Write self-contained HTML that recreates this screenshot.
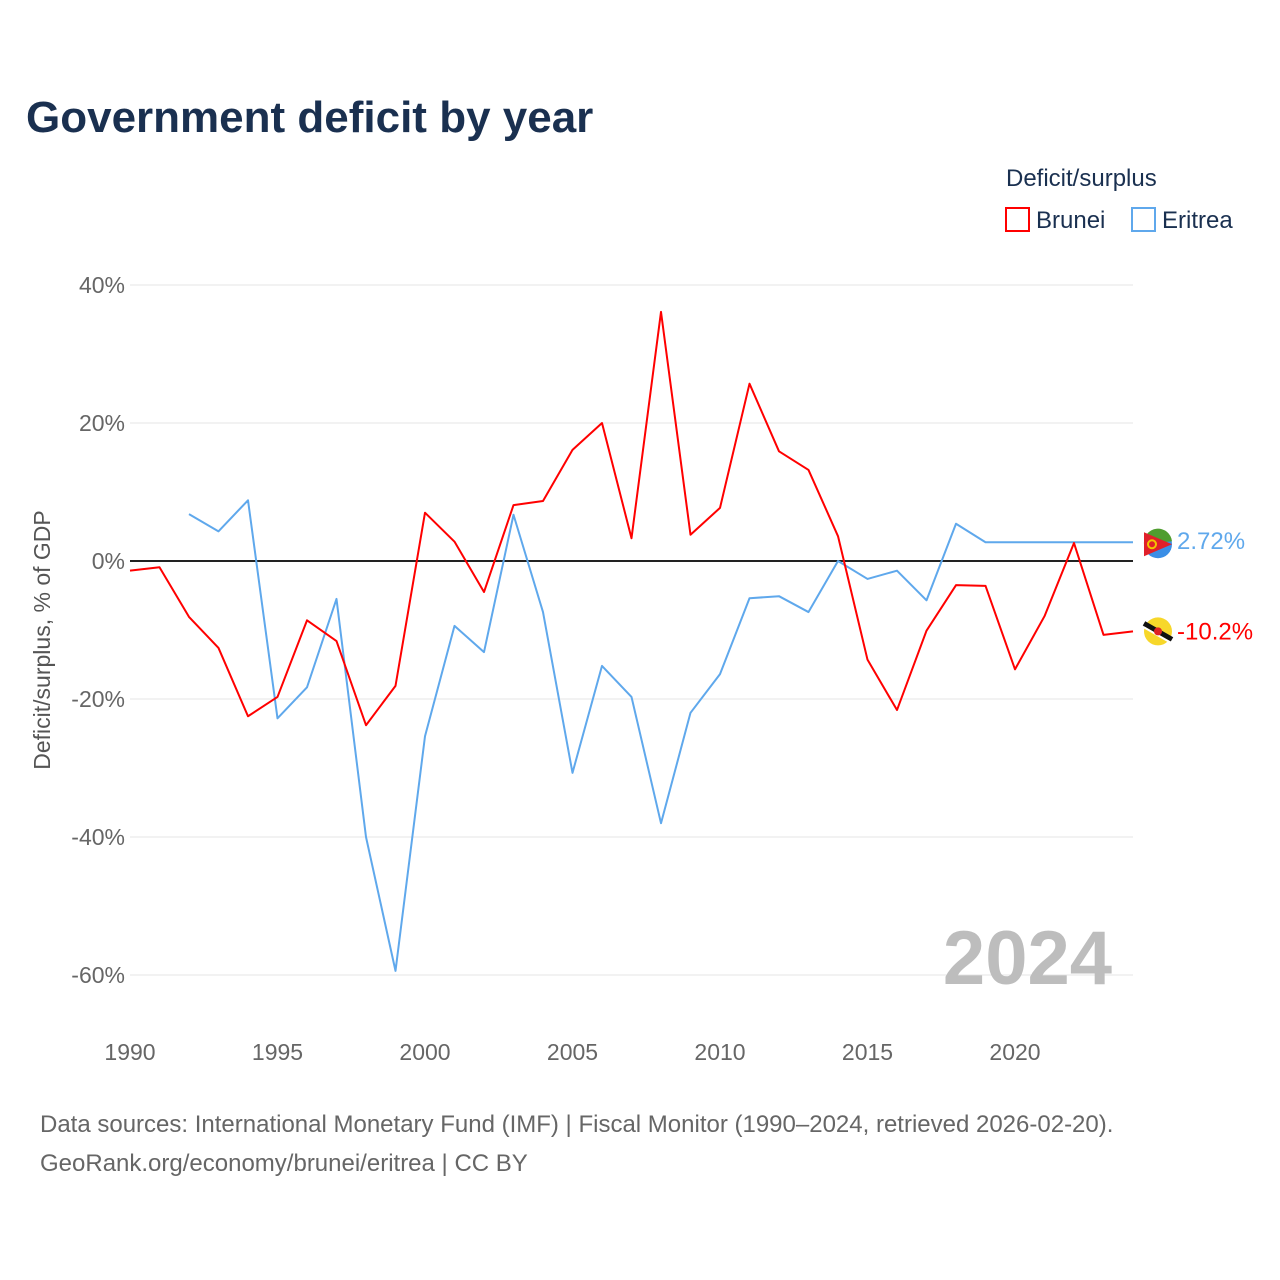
<!DOCTYPE html>
<html><head><meta charset="utf-8"><style>
html,body{margin:0;padding:0;background:#fff;width:1280px;height:1280px;overflow:hidden}
svg text{font-family:"Liberation Sans",sans-serif}
</style></head><body>
<svg id="chart" width="1280" height="1280" xmlns="http://www.w3.org/2000/svg">
<text x="26" y="132" font-size="44" font-weight="bold" fill="#1a3050">Government deficit by year</text>
<text x="1006" y="186" font-size="24" fill="#1a3050">Deficit/surplus</text>
<g><rect x="1006" y="208" width="23" height="23" fill="none" stroke="#ff0000" stroke-width="2"/><text x="1036" y="228" font-size="24" fill="#1a3050">Brunei</text></g>
<g><rect x="1132" y="208" width="23" height="23" fill="none" stroke="#5fa8ec" stroke-width="2"/><text x="1162" y="228" font-size="24" fill="#1a3050">Eritrea</text></g>
<g id="grid"></g>
<g id="yt"></g>
<g id="xt"></g>
<text transform="translate(50,640) rotate(-90)" text-anchor="middle" font-size="23" fill="#555">Deficit/surplus, % of GDP</text>
<text x="1112" y="984" text-anchor="end" font-size="76" font-weight="bold" fill="#bdbdbd">2024</text>
<g id="series"></g>
<text x="40" y="1132" font-size="24" fill="#666">Data sources: International Monetary Fund (IMF) | Fiscal Monitor (1990–2024, retrieved 2026-02-20).</text>
<text x="40" y="1171" font-size="24" fill="#666">GeoRank.org/economy/brunei/eritrea | CC BY</text>
</svg>
<script>
const years=[];for(let y=1990;y<=2024;y++)years.push(y);
const brunei=[-1.4,-0.9,-8.1,-12.6,-22.5,-19.7,-8.6,-11.6,-23.8,-18.1,7.0,2.8,-4.5,8.1,8.7,16.1,20.0,3.3,36.1,3.8,7.7,25.7,15.9,13.2,3.6,-14.3,-21.6,-10.1,-3.5,-3.6,-15.7,-8.0,2.6,-10.7,-10.2];
const eritrea=[null,null,6.8,4.3,8.8,-22.8,-18.3,-5.5,-40,-59.4,-25.4,-9.4,-13.2,6.7,-7.4,-30.7,-15.2,-19.7,-38,-22,-16.4,-5.4,-5.1,-7.4,0,-2.6,-1.4,-5.7,5.4,2.72,2.72,2.72,2.72,2.72,2.72];
const yTicks=[40,20,0,-20,-40,-60];
const xTicks=[1990,1995,2000,2005,2010,2015,2020];
const X=y=>130+(y-1990)*(1133-130)/34;
const Y=v=>561-v*6.9;
const NS="http://www.w3.org/2000/svg";
function mk(t,a,p){const e=document.createElementNS(NS,t);for(const k in a)e.setAttribute(k,a[k]);p.appendChild(e);return e;}
const grid=document.getElementById('grid'),yt=document.getElementById('yt'),xt=document.getElementById('xt'),ser=document.getElementById('series');
yTicks.forEach(v=>{
 const l=mk('line',{x1:130,x2:1133,y1:Y(v),y2:Y(v),stroke:v===0?'#222':'#e6e6e6','stroke-width':v===0?2:1},grid);
 
 
 const t=mk('text',{x:125,y:Y(v)+8,'text-anchor':'end','font-size':23,fill:'#666'},yt);t.textContent=v+'%';
 
 
});
xTicks.forEach(v=>{
 const t=mk('text',{x:X(v),y:1060,'text-anchor':'middle','font-size':23,fill:'#666'},xt);t.textContent=v;
 
 
});
function line(vals,color,name){
 let d='';let started=false;
 vals.forEach((v,i)=>{if(v===null)return;d+=(started?'L':'M')+X(years[i])+','+Y(v);started=true;});
 const p=mk('path',{d:d,fill:'none',stroke:color,'stroke-width':2,'stroke-linejoin':'round'},ser);
 
 
}
line(eritrea,'#5fa8ec','eritrea-line');
line(brunei,'#ff0000','brunei-line');
const le=eritrea[eritrea.length-1],lb=brunei[brunei.length-1];
const fe=mk('g',{},ser);


mk('circle',{cx:1158,cy:Y(le)+2,r:14,fill:'#3a8ee6'},fe);
mk('path',{d:`M1144,${Y(le)+2} A14,14 0 0 1 1172,${Y(le)-1} Z`,fill:'#4f9d2f'},fe);
mk('path',{d:`M1144,${Y(le)-10} L1172,${Y(le)+2} L1144,${Y(le)+14} Z`,fill:'#e0202a'},fe);
mk('circle',{cx:1152,cy:Y(le)+2,r:4,fill:'none',stroke:'#f3c300','stroke-width':2},fe);
const te=mk('text',{x:1177,y:Y(le)+7,'font-size':24,fill:'#5fa8ec'},ser);te.textContent=le.toFixed(2)+'%';


const fb=mk('g',{},ser);


mk('circle',{cx:1158,cy:Y(lb),r:14,fill:'#f7d72a'},fb);
mk('line',{x1:1144,y1:Y(lb)-8,x2:1172,y2:Y(lb)+8,stroke:'#111','stroke-width':5},fb);
mk('line',{x1:1144,y1:Y(lb)-4,x2:1172,y2:Y(lb)+12,stroke:'#fff','stroke-width':2},fb);
mk('circle',{cx:1158,cy:Y(lb),r:4,fill:'#d22'},fb);
const tb=mk('text',{x:1177,y:Y(lb)+8,'font-size':24,fill:'#ff0000'},ser);tb.textContent=lb.toFixed(1)+'%';


</script>
</body></html>
